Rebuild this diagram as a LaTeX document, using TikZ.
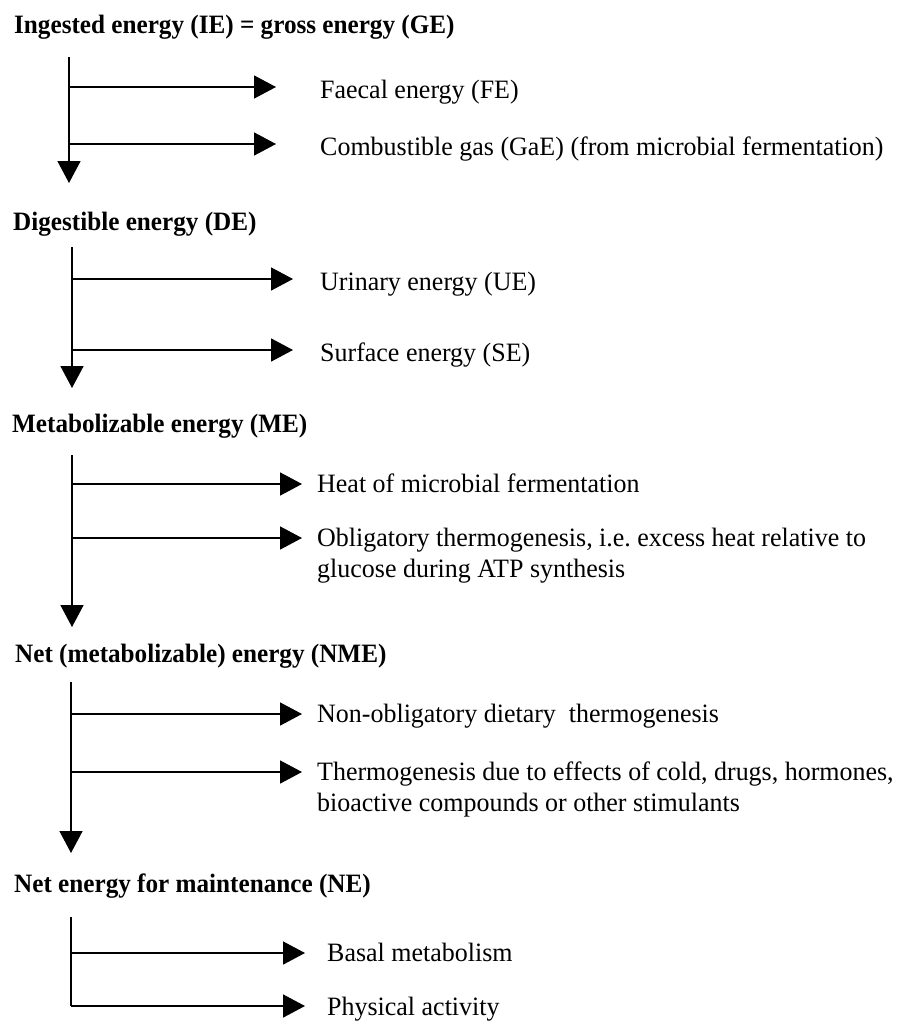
\documentclass[tikz,border=0pt]{standalone}
\usepackage{fontspec}
\setmainfont[FakeStretch=0.98]{Liberation Serif}
\newfontfamily\headfont[FakeStretch=0.95]{Liberation Serif}
\usetikzlibrary{arrows.meta}
\frenchspacing
\begin{document}
\begin{tikzpicture}[x=1pt,y=-1pt,
  head/.style={anchor=base west,inner sep=0pt,font=\headfont\fontsize{26.5}{31}\selectfont\bfseries},
  item/.style={anchor=base west,inner sep=0pt,font=\fontsize{26.5}{31}\selectfont},
  flow/.style={line width=1.6pt,-{Triangle[length=22pt,width=23pt]}},
  trunk/.style={line width=1.6pt}]
\useasboundingbox (0,0) rectangle (905,1023);
% Section 1
\node[head] (h1) at (14,33) {Ingested energy (IE) = gross energy (GE)};
\coordinate (v1t) at (69,57); \coordinate (v1b) at (69,183);
\coordinate (j1a) at (69,87); \coordinate (e1a) at (276,87);
\coordinate (j1b) at (69,144); \coordinate (e1b) at (276,144);
\node[item] (i1a) at (320,98) {Faecal energy (FE)};
\node[item] (i1b) at (320,155) {Combustible gas (GaE) (from microbial fermentation)};
\draw[flow] (v1t) -- (v1b);
\draw[flow] (j1a) -- (e1a);
\draw[flow] (j1b) -- (e1b);
% Section 2
\node[head] (h2) at (13,230) {Digestible energy (DE)};
\coordinate (v2t) at (72,247); \coordinate (v2b) at (72,388);
\coordinate (j2a) at (72,279); \coordinate (e2a) at (293,279);
\coordinate (j2b) at (72,350); \coordinate (e2b) at (293,350);
\node[item] (i2a) at (320,290) {Urinary energy (UE)};
\node[item] (i2b) at (320,361) {Surface energy (SE)};
\draw[flow] (v2t) -- (v2b);
\draw[flow] (j2a) -- (e2a);
\draw[flow] (j2b) -- (e2b);
% Section 3
\node[head] (h3) at (12,432) {Metabolizable energy (ME)};
\coordinate (v3t) at (72,455); \coordinate (v3b) at (72,627);
\coordinate (j3a) at (72,484); \coordinate (e3a) at (302,484);
\coordinate (j3b) at (72,538); \coordinate (e3b) at (302,538);
\node[item] (i3a) at (317,492) {Heat of microbial fermentation};
\node[item] (i3b) at (317,546) {\begin{tabular}[t]{@{}l@{}}Obligatory thermogenesis, i.e. excess heat relative to\\glucose during ATP synthesis\end{tabular}};
\draw[flow] (v3t) -- (v3b);
\draw[flow] (j3a) -- (e3a);
\draw[flow] (j3b) -- (e3b);
% Section 4
\node[head] (h4) at (15,662) {Net (metabolizable) energy (NME)};
\coordinate (v4t) at (71,682); \coordinate (v4b) at (71,853);
\coordinate (j4a) at (71,714); \coordinate (e4a) at (302,714);
\coordinate (j4b) at (71,772); \coordinate (e4b) at (302,772);
\node[item] (i4a) at (317,722) {Non-obligatory dietary\ \ thermogenesis};
\node[item] (i4b) at (317,780) {\begin{tabular}[t]{@{}l@{}}Thermogenesis due to effects of cold, drugs, hormones,\\bioactive compounds or other stimulants\end{tabular}};
\draw[flow] (v4t) -- (v4b);
\draw[flow] (j4a) -- (e4a);
\draw[flow] (j4b) -- (e4b);
% Section 5
\node[head] (h5) at (14,892) {Net energy for maintenance (NE)};
\coordinate (v5t) at (71,917); \coordinate (v5c) at (71,1006);
\coordinate (j5a) at (71,953); \coordinate (e5a) at (305,953);
\coordinate (e5b) at (305,1006);
\node[item] (i5a) at (327,961) {Basal metabolism};
\node[item] (i5b) at (327,1015) {Physical activity};
\draw[trunk] (v5t) -- (v5c);
\draw[flow] (j5a) -- (e5a);
\draw[flow] (v5c) -- (e5b);
\end{tikzpicture}
\end{document}
